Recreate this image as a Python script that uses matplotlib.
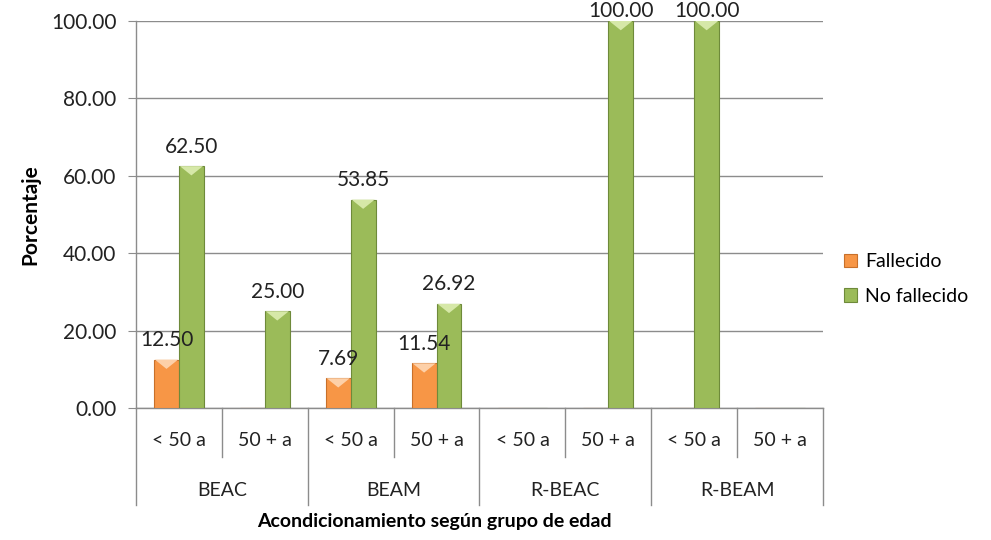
import numpy as np
import matplotlib
matplotlib.use('agg')
import matplotlib.pyplot as plt
from matplotlib.patches import Polygon
from matplotlib.transforms import blended_transform_factory

grupos = ['BEAC', 'BEAM', 'R-BEAC', 'R-BEAM']
edades = ['< 50 a', '50 + a']
fallecido = [12.50, 0, 7.69, 11.54, 0, 0, 0, 0]
no_fallecido = [62.50, 25.00, 53.85, 26.92, 0, 100.00, 100.00, 0]

plt.rcParams['font.family'] = ['Lato', 'DejaVu Sans']

fig = plt.figure(figsize=(9.91, 5.4), dpi=100)
ax = fig.add_axes([136 / 991, 1 - 408 / 540, 687 / 991, 387 / 540])

x = np.arange(len(fallecido))
w = 0.29
naranja, naranja_borde = '#F79646', '#C8702A'
verde, verde_borde = '#9BBB59', '#6E8A3A'

b1 = ax.bar(x - w / 2, fallecido, w, color=naranja, edgecolor=naranja_borde, linewidth=0.8, zorder=3, label='Fallecido')
b2 = ax.bar(x + w / 2, no_fallecido, w, color=verde, edgecolor=verde_borde, linewidth=0.8, zorder=3, label='No fallecido')

# bevel on top of each bar
for bars, light in ((b1, '#FDD0A8'), (b2, '#D6E8A8')):
  for r in bars:
    h = r.get_height()
    if h <= 0:
      continue
    x0, bw = r.get_x(), r.get_width()
    dy = 2.4
    ax.add_patch(Polygon([[x0 + 0.01, h], [x0 + bw - 0.01, h], [x0 + bw * 0.5, h - dy]],
                         closed=True, color=light, zorder=4, lw=0))

# value labels
for bars, vals in ((b1, fallecido), (b2, no_fallecido)):
  for r, v in zip(bars, vals):
    if v <= 0:
      continue
    off = 7 if v >= 100 else 14
    ax.annotate(f'{v:.2f}', xy=(r.get_x() + r.get_width() / 2, v), xytext=(0, off),
                textcoords='offset points', ha='center', va='center',
                fontsize=15, color='#222222', zorder=5, annotation_clip=False)

ax.set_ylim(0, 100)
ax.set_xlim(-0.5, len(x) - 0.5)
ax.set_yticks(np.arange(0, 101, 20))
ax.set_yticklabels([f'{t:.2f}' for t in np.arange(0, 101, 20)], fontsize=15, color='#222222')
ax.yaxis.grid(True, color='#8C8C8C', linewidth=1)
ax.set_axisbelow(True)
ax.tick_params(axis='y', length=6, color='#8C8C8C', pad=8)
ax.set_xticks([])
for s in ('top', 'right'):
  ax.spines[s].set_visible(False)
for s in ('left', 'bottom'):
  ax.spines[s].set_color('#8C8C8C')
  ax.spines[s].set_linewidth(1)

# two level category axis
tr = blended_transform_factory(ax.transData, ax.transAxes)
sub_len = -49 / 387
grp_len = -97 / 387
for i in range(len(x)):
  ax.text(i, -32 / 387, edades[i % 2], transform=tr, ha='center', va='center', fontsize=14, color='#222222')
for j, g in enumerate(grupos):
  ax.text(2 * j + 0.5, -82 / 387, g, transform=tr, ha='center', va='center', fontsize=14, color='#222222')
for k in range(len(x) + 1):
  pos = k - 0.5
  y_end = grp_len if k % 2 == 0 else sub_len
  ax.plot([pos, pos], [0, y_end], transform=tr, color='#8C8C8C', lw=1, clip_on=False)

ax.set_ylabel('Porcentaje', fontsize=15, fontweight='bold', labelpad=8)
fig.text(434 / 991, 1 - 522 / 540, 'Acondicionamiento según grupo de edad',
         ha='center', va='center', fontsize=14, fontweight='bold')

fig.legend(handles=[b1, b2], loc='center left', bbox_to_anchor=(826 / 991, 1 - 279 / 540),
           frameon=False, fontsize=14, handlelength=0.7, handleheight=0.7,
           handletextpad=0.4, labelspacing=0.9)

fig.savefig('out.png', dpi=100)
